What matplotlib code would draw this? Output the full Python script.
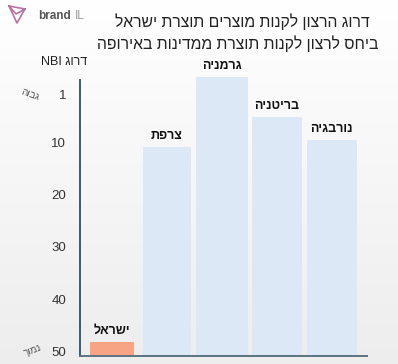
import numpy as np
import matplotlib.pyplot as plt
from matplotlib.lines import Line2D

plt.rcParams['font.family'] = ['Liberation Sans', 'DejaVu Sans']

# data (rank; lower = better)
countries = ['ישראל', 'צרפת', 'גרמניה', 'בריטניה', 'נורבגיה']
rank = [48.1, 11.0, -2.4, 5.2, 9.6]
baseline = 50.8
yticks = [1, 10, 20, 30, 40, 50]
title_lines = ['דרוג הרצון לקנות מוצרים תוצרת ישראל',
               'ביחס לרצון לקנות תוצרת ממדינות באירופה']


def vis(s):
    # matplotlib has no bidi support: lay out hebrew right-to-left by hand
    out = []
    for w in reversed(s.split(' ')):
        if any('\u0590' <= c <= '\u05ff' for c in w):
            w = w[::-1]
        out.append(w)
    return ' '.join(out)


W, H = 398, 364
fig = plt.figure(figsize=(W / 100, H / 100), dpi=100)

# soft white-to-grey background
bg = fig.add_axes([0, 0, 1, 1], zorder=-5)
grad = np.linspace(1.0, 0.93, 256).reshape(-1, 1)
bg.imshow(np.dstack([grad, grad, grad]), aspect='auto', extent=[0, 1, 0, 1])
bg.axis('off')


def fx(px):
    return px / W


def fy(py):
    return 1 - py / H


ax = fig.add_axes([fx(80), fy(356), fx(367) - fx(80), fy(75) - fy(356)])
ax.patch.set_alpha(0)

x = np.arange(len(countries))
widths = [0.8, 0.88, 0.95, 0.92, 0.92]
colors = ['#f6a483'] + ['#dce8f5'] * 4
heights = [baseline - r for r in rank]
ax.bar(x, heights, bottom=rank, width=widths, color=colors, zorder=2)

for xi, r, name in zip(x, rank, countries):
    ax.text(xi, r - 1.0, vis(name), ha='center', va='bottom',
            fontsize=9, fontweight='bold', color='#111111')

ax.set_xlim(-0.58, 4.64)
ax.set_ylim(baseline, -2.8)
ax.set_yticks(yticks)
ax.set_yticklabels([str(t) for t in yticks], fontsize=9.5, color='#333333')
ax.tick_params(axis='y', length=0, pad=10)
ax.set_xticks([])
for s in ['top', 'right']:
    ax.spines[s].set_visible(False)
ax.spines['left'].set_color('#3a5a6e')
ax.spines['left'].set_linewidth(1.4)
ax.spines['left'].set_bounds(baseline, -1.8)
ax.spines['bottom'].set_color('#5b7282')
ax.spines['bottom'].set_linewidth(1.4)

# axis captions
fig.text(fx(64), fy(62), vis('דרוג NBI'), ha='center', va='center',
         fontsize=9, color='#222222')
fig.text(fx(30), fy(94), vis('גבוה'), ha='center', va='center',
         fontsize=7, color='#555555', rotation=-20)
fig.text(fx(33), fy(350), vis('נמוך'), ha='center', va='center',
         fontsize=7, color='#555555', rotation=20)

# title
fig.text(fx(242), fy(22), vis(title_lines[0]), ha='center', va='center',
         fontsize=11.3, color='#222222')
fig.text(fx(238), fy(44), vis(title_lines[1]), ha='center', va='center',
         fontsize=11.3, color='#222222')

# logo
pts = [(9, 6), (25, 9), (17, 23), (9, 6), (16, 14), (25, 9)]
fig.add_artist(Line2D([fx(p[0]) for p in pts], [fy(p[1]) for p in pts],
                      color='#b8739f', lw=1.2))
fig.text(fx(38), fy(16), 'brand', ha='left', va='center', fontsize=8.5,
         fontweight='bold', color='#555555')
fig.text(fx(75), fy(16), 'IL', ha='left', va='center', fontsize=8.5,
         color='#999999')

fig.savefig('out.png', dpi=100)
